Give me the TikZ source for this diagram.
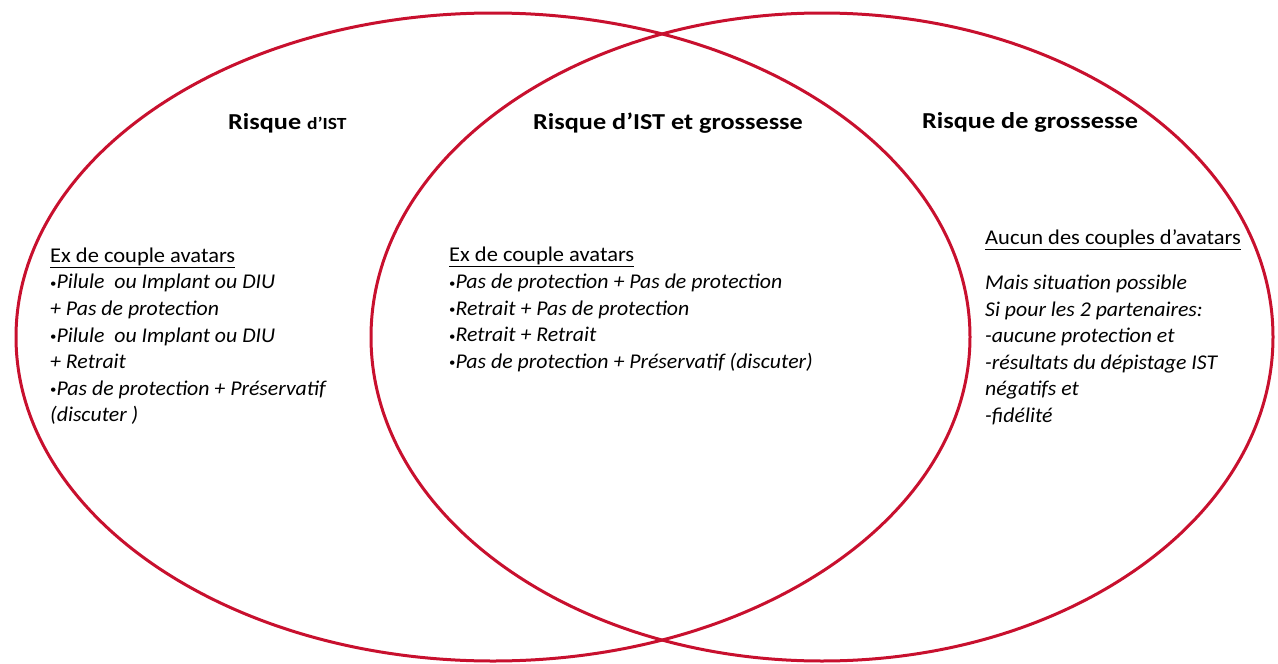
\documentclass[tikz,border=0pt]{standalone}
\usepackage{fontspec}
\setmainfont{Carlito}[ItalicFeatures={FakeStretch=0.97}]
\usepackage{tikz}
\definecolor{rougevenn}{RGB}{200,16,46}
\newcommand{\puce}{\raisebox{1.5pt}{\fontsize{12}{12}\selectfont\textbullet}}

\begin{document}
\begin{tikzpicture}[x=1pt, y=1pt,
  cercle/.style={draw=rougevenn, line width=3pt},
  titre/.style={anchor=base west, inner sep=0pt, xscale=1.15, transform shape,
    font=\fontsize{22.8}{27}\selectfont\bfseries},
  corps/.style={anchor=base west, inner sep=0pt, align=left, xscale=1.07, transform shape,
    font=\fontsize{21}{26.6}\selectfont}]

\useasboundingbox (0,0) rectangle (1278,-664);

% Ellipses
\draw[cercle] (493,-337) ellipse [x radius=477, y radius=324];
\draw[cercle] (822,-337) ellipse [x radius=451, y radius=324];

% Titles
\node[titre] (t_ist) at (228,-129.5) {Risque {\fontsize{17}{20}\selectfont d’IST}};
\node[titre] (t_both) at (533,-129.5) {Risque d’IST et grossesse};
\node[titre] (t_gross) at (922,-128.5) {Risque de grossesse};

% Text (anchored on the baseline of the last line)
\node[corps] (ex_ist) at (50,-421.8) {\underline{Ex de couple avatars}\\
  \puce\textit{Pilule\ \ ou Implant ou DIU}\\
  \textit{+ Pas de protection}\\
  \puce\textit{Pilule\ \ ou Implant ou DIU}\\
  \textit{+ Retrait}\\
  \puce\textit{Pas de protection + Préservatif}\\
  \textit{(discuter )}};
\node[corps] (ex_both) at (449,-368.3) {\underline{Ex de couple avatars}\\
  \puce\textit{Pas de protection + Pas de protection}\\
  \puce\textit{Retrait + Pas de protection}\\
  \puce\textit{Retrait + Retrait}\\
  \puce\textit{Pas de protection + Préservatif (discuter)}};
\node[corps] (aucun) at (985,-244) {\underline{Aucun des couples d’avatars}};
\node[corps, font=\fontsize{21}{26.6}\selectfont\itshape] (mais) at (985,-422.5) {Mais situation possible\\
  Si pour les 2 partenaires:\\
  -aucune protection et\\
  -résultats du dépistage IST\\
  négatifs et\\
  -fidélité};

\end{tikzpicture}
\end{document}
